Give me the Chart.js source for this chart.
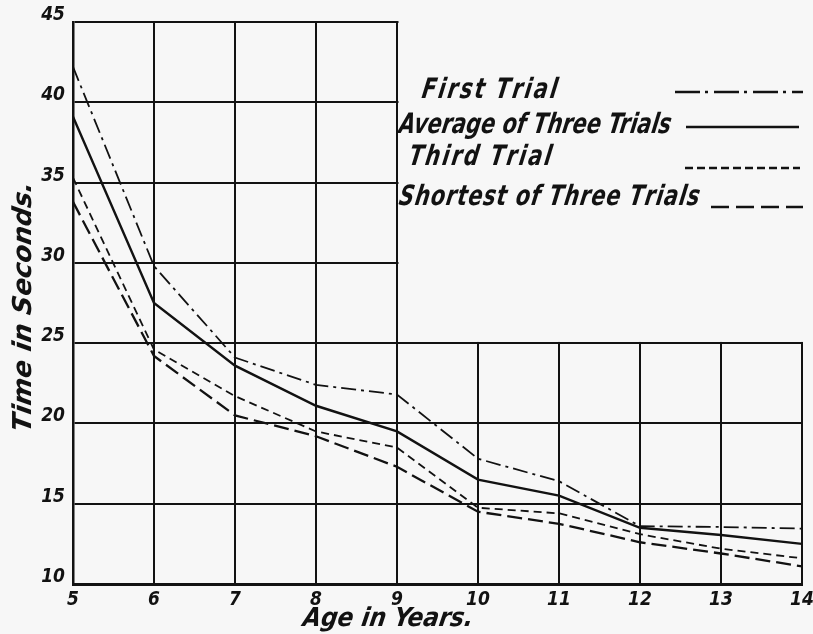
<!DOCTYPE html>
<html>
<head>
<meta charset="utf-8">
<script src="https://cdn.jsdelivr.net/npm/chart.js@4/dist/chart.umd.min.js"></script>
<style>
html,body{margin:0;padding:0;background:#f7f7f7;}
#wrap{width:813px;height:634px;position:relative;}
</style>
</head>
<body>
<div id="wrap"><canvas id="c" width="813" height="634"></canvas></div>
<script>
// ---- data ----
const ages = [5, 6, 7, 8, 9, 10, 11, 12, 13, 14];
const firstTrial = [42.2, 29.8, 24.1, 22.4, 21.8, 17.8, 16.4, 13.6, 13.55, 13.45];
const averageOfThree = [39.1, 27.5, 23.6, 21.1, 19.5, 16.5, 15.5, 13.5, 13.05, 12.5];
const thirdTrial = [35.3, 24.6, 21.7, 19.5, 18.5, 14.75, 14.4, 13.1, 12.2, 11.6];
const shortestOfThree = [33.8, 24.2, 20.5, 19.2, 17.3, 14.5, 13.75, 12.6, 11.9, 11.1];
const seriesLabels = ['First Trial', 'Average of Three Trials', 'Third Trial', 'Shortest of Three Trials'];
const yTicks = [10, 15, 20, 25, 30, 35, 40, 45];
const xTitle = 'Age in Years.';
const yTitle = 'Time in Seconds.';

const INK = '#121212';
const BG = '#f7f7f7';
const FONT = "'Liberation Sans Narrow', 'DejaVu Sans Condensed', 'Liberation Sans', sans-serif";

const pts = arr => ages.map((a, i) => ({x: a, y: arr[i]}));

const styles = [
  {borderDash: [15, 5, 3, 5], borderWidth: 1.8},
  {borderDash: [], borderWidth: 2.4},
  {borderDash: [8, 5], borderWidth: 1.8},
  {borderDash: [15, 6], borderWidth: 2.3}
];
const series = [firstTrial, averageOfThree, thirdTrial, shortestOfThree];

const datasets = series.map((s, i) => Object.assign({
  label: seriesLabels[i],
  data: pts(s),
  borderColor: INK,
  backgroundColor: INK,
  pointRadius: 0,
  tension: 0,
  fill: false
}, styles[i]));

// legend layout (positions / sample styles only)
const legendPos = [
  {tx: 421, ty: 98, lx1: 675, lx2: 803, ly: 92, tw: 162, dash: [25, 5, 3, 6], lw: 2.4},
  {tx: 398, ty: 133, lx1: 686, lx2: 799, ly: 127, tw: 272, dash: [], lw: 2.6},
  {tx: 408, ty: 165, lx1: 685, lx2: 800, ly: 168, tw: 150, dash: [8, 4], lw: 2.4},
  {tx: 398, ty: 205, lx1: 711, lx2: 803, ly: 207, tw: 298, dash: [18, 7], lw: 2.5}
];

function drawText(ctx, txt, x, y, sx, targetW, rotate) {
  const w = ctx.measureText(txt).width;
  let extra = 0;
  if (targetW) {
    const rem = targetW / sx - w;
    if (rem > 0) extra = Math.min(2.5, rem / Math.max(1, txt.length - 1));
  }
  ctx.save();
  ctx.translate(x, y);
  if (rotate) ctx.rotate(-Math.PI / 2);
  ctx.transform(1, 0, -0.16, 1, 0, 0);
  ctx.scale(sx, 1);
  if (extra > 0) {
    let cx = 0;
    for (const ch of txt) {
      ctx.fillText(ch, cx, 0);
      cx += ctx.measureText(ch).width + extra;
    }
  } else {
    ctx.fillText(txt, 0, 0);
  }
  ctx.restore();
}

const decor = {
  id: 'decor',
  beforeDatasetsDraw(chart) {
    const {ctx, chartArea, scales} = chart;
    const x9 = scales.x.getPixelForValue(9);
    const y25 = scales.y.getPixelForValue(25);
    ctx.save();
    ctx.fillStyle = BG;
    ctx.fillRect(x9 + 1.5, chartArea.top - 4, chartArea.right + 4 - x9, y25 - 1.2 - (chartArea.top - 4));
    ctx.restore();
  },
  afterDraw(chart) {
    const {ctx} = chart;
    ctx.save();
    ctx.fillStyle = INK;
    ctx.strokeStyle = INK;
    ctx.textBaseline = 'alphabetic';
    ctx.font = "italic bold 28px " + FONT;
    const sx = legendPos[1].tw / ctx.measureText(chart.data.datasets[1].label).width;
    chart.data.datasets.forEach((ds, i) => {
      const p = legendPos[i];
      drawText(ctx, ds.label, p.tx, p.ty, sx, p.tw, false);
      ctx.save();
      ctx.lineWidth = p.lw;
      ctx.setLineDash(p.dash);
      ctx.beginPath();
      ctx.moveTo(p.lx1, p.ly);
      ctx.lineTo(p.lx2, p.ly);
      ctx.stroke();
      ctx.restore();
    });
    ctx.font = "italic bold 26px " + FONT;
    drawText(ctx, xTitle, 302, 626, 170 / ctx.measureText(xTitle).width, 0, false);
    drawText(ctx, yTitle, 31, 433, 250 / ctx.measureText(yTitle).width, 0, true);
    ctx.restore();
  }
};

new Chart(document.getElementById('c'), {
  type: 'line',
  data: {datasets},
  options: {
    responsive: false,
    animation: false,
    devicePixelRatio: 1,
    layout: {padding: {left: 0, top: 22, right: 11, bottom: 0}},
    plugins: {legend: {display: false}, tooltip: {enabled: false}},
    scales: {
      x: {
        type: 'linear',
        min: ages[0], max: ages[ages.length - 1],
        afterBuildTicks: s => { s.ticks = ages.map(v => ({value: v})); },
        afterFit: s => { s.height = 50; s.paddingLeft = 0; s.paddingRight = 0; },
        grid: {color: INK, lineWidth: 2, drawTicks: false},
        border: {color: INK, width: 3},
        ticks: {
          color: INK, padding: 5, maxRotation: 0,
          font: {family: FONT, size: 19, style: 'italic', weight: 'bold'}
        }
      },
      y: {
        type: 'linear',
        min: yTicks[0], max: yTicks[yTicks.length - 1],
        afterBuildTicks: s => { s.ticks = yTicks.map(v => ({value: v})); },
        afterFit: s => { s.width = 73; s.paddingTop = 0; s.paddingBottom = 0; },
        grid: {color: INK, lineWidth: 2, drawTicks: false},
        border: {color: INK, width: 2.5},
        ticks: {
          color: INK, padding: 8, labelOffset: -7,
          font: {family: FONT, size: 19, style: 'italic', weight: 'bold'}
        }
      }
    }
  },
  plugins: [decor]
});
</script>
</body>
</html>
